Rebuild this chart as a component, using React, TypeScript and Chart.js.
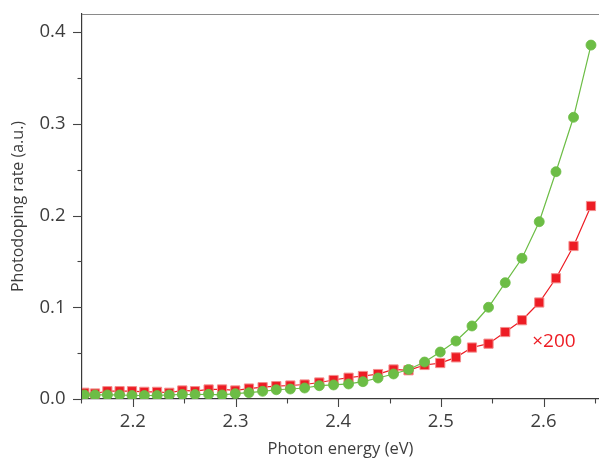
import React, { useEffect, useRef } from "react";
import { Chart, registerables } from "chart.js";
Chart.register(...registerables);

// Photon energy (eV) of each measured point
const energy = [
  2.1528, 2.1632, 2.1752, 2.1871, 2.1992, 2.2112, 2.2236, 2.2355, 2.2482, 2.2606,
  2.2738, 2.2869, 2.2998, 2.3131, 2.3264, 2.3397, 2.3534, 2.3673, 2.3816, 2.3955,
  2.4101, 2.4241, 2.4388, 2.4539, 2.4685, 2.4841, 2.4994, 2.5147, 2.5303, 2.5464,
  2.5627, 2.579, 2.5958, 2.6121, 2.6292, 2.6462,
];
// green circles
const greenRate = [
  0.0044, 0.0044, 0.0044, 0.0044, 0.0038, 0.0038, 0.0038, 0.0044, 0.0049, 0.0049,
  0.0051, 0.0044, 0.0058, 0.0069, 0.0084, 0.0101, 0.0109, 0.012, 0.0145, 0.0153,
  0.0164, 0.0189, 0.0229, 0.0273, 0.0322, 0.0403, 0.0512, 0.0632, 0.0796, 0.1,
  0.1268, 0.1534, 0.1933, 0.2478, 0.3071, 0.3858,
];
// red squares (×200)
const redRate = [
  0.0068, 0.006, 0.0085, 0.0085, 0.0085, 0.0078, 0.0078, 0.0068, 0.0093, 0.0085,
  0.0104, 0.0104, 0.0093, 0.0114, 0.0129, 0.014, 0.0147, 0.0158, 0.018, 0.0207,
  0.0232, 0.0251, 0.0272, 0.0322, 0.0313, 0.0371, 0.0392, 0.0454, 0.0561, 0.0603,
  0.073, 0.0859, 0.1052, 0.1316, 0.1668, 0.2104,
];
const xTickLabels = ["2.2", "2.3", "2.4", "2.5", "2.6"];
const yTickLabels = ["0.0", "0.1", "0.2", "0.3", "0.4"];
const xMinorTicks = ["2.15", "2.25", "2.35", "2.45", "2.55", "2.65"];
const yMinorTicks = ["0.05", "0.15", "0.25", "0.35"];
const scaleNote = "×200";
const scaleNoteAt = { x: 2.589, y: 0.0625 };

const GREEN = "#6cbd45";
const RED = "#ed1c24";
const TEXT = "#3d3d3d";
const FONT = "'Open Sans', 'Noto Sans', sans-serif";

const axisDecor = {
  id: "axisDecor",
  afterDraw(chart: any) {
    const { ctx, chartArea } = chart;
    const x = chart.scales.x;
    const y = chart.scales.y;
    ctx.save();
    // top frame line
    ctx.strokeStyle = "#8a8a8a";
    ctx.lineWidth = 1.2;
    ctx.beginPath();
    ctx.moveTo(chartArea.left, chartArea.top + 0.5);
    ctx.lineTo(chartArea.right, chartArea.top + 0.5);
    ctx.stroke();
    ctx.strokeStyle = "#444";
    ctx.lineWidth = 1.1;
    const drawX = (v: number, len: number) => {
      const px = Math.round(x.getPixelForValue(v)) + 0.5;
      ctx.beginPath();
      ctx.moveTo(px, chartArea.bottom);
      ctx.lineTo(px, chartArea.bottom + len);
      ctx.stroke();
    };
    const drawY = (v: number, len: number) => {
      const py = Math.round(y.getPixelForValue(v)) + 0.5;
      ctx.beginPath();
      ctx.moveTo(chartArea.left, py);
      ctx.lineTo(chartArea.left - len, py);
      ctx.stroke();
    };
    xTickLabels.forEach((l) => drawX(parseFloat(l), 8));
    xMinorTicks.forEach((l) => drawX(parseFloat(l), 4.5));
    yTickLabels.forEach((l) => drawY(parseFloat(l), 9));
    yMinorTicks.forEach((l) => drawY(parseFloat(l), 4.5));
    // ×200 note
    ctx.fillStyle = RED;
    ctx.font = `19px ${FONT}`;
    ctx.textAlign = "left";
    ctx.textBaseline = "middle";
    ctx.fillText(scaleNote, x.getPixelForValue(scaleNoteAt.x), y.getPixelForValue(scaleNoteAt.y));
    ctx.restore();
  },
};

export default function App() {
  const ref = useRef<HTMLCanvasElement | null>(null);
  useEffect(() => {
    if (!ref.current) return;
    const chart = new Chart(ref.current, {
      type: "scatter",
      data: {
        datasets: [
          {
            label: "green",
            data: energy.map((e, i) => ({ x: e, y: greenRate[i] })),
            showLine: true,
            borderColor: GREEN,
            borderWidth: 1.2,
            backgroundColor: GREEN,
            pointStyle: "circle",
            pointRadius: 5,
            pointBorderWidth: 0.8,
            pointBorderColor: GREEN,
            pointBackgroundColor: GREEN,
            tension: 0,
          },
          {
            label: "red ×200",
            data: energy.map((e, i) => ({ x: e, y: redRate[i] })),
            showLine: true,
            borderColor: RED,
            borderWidth: 1.2,
            backgroundColor: RED,
            pointStyle: "rect",
            pointRadius: 6.5,
            pointBorderWidth: 1,
            pointBorderColor: "#f48c8c",
            pointBackgroundColor: RED,
            tension: 0,
          },
        ],
      },
      options: {
        responsive: false,
        animation: false,
        devicePixelRatio: 1,
        layout: { autoPadding: false, padding: { top: 14, left: 0, right: 0, bottom: 0 } },
        plugins: { legend: { display: false }, tooltip: { enabled: false } },
        scales: {
          x: {
            type: "linear",
            min: 2.1505,
            max: 2.654,
            grid: { display: false, drawTicks: false },
            border: { display: true, color: "#3a3a3a", width: 1.2 },
            afterBuildTicks: (s: any) => {
              s.ticks = xTickLabels.map((l) => ({ value: parseFloat(l) }));
            },
            afterFit: (s: any) => {
              s.height = 60;
              s.paddingLeft = 0;
              s.paddingRight = 0;
            },
            ticks: {
              padding: 12,
              color: TEXT,
              font: { family: FONT, size: 18.5 },
              callback: (v: any) => xTickLabels.find((l) => Math.abs(parseFloat(l) - v) < 1e-6) ?? "",
            },
            title: {
              display: true,
              text: "Photon energy (eV)",
              color: TEXT,
              font: { family: FONT, size: 16.5 },
              padding: { top: 0, bottom: 0 },
            },
          },
          y: {
            type: "linear",
            min: 0,
            max: 0.4197,
            grid: { display: false, drawTicks: false },
            border: { display: true, color: "#3a3a3a", width: 1.2 },
            afterBuildTicks: (s: any) => {
              s.ticks = yTickLabels.map((l) => ({ value: parseFloat(l) }));
            },
            afterFit: (s: any) => {
              s.width = 82;
              s.paddingTop = 0;
              s.paddingBottom = 0;
            },
            ticks: {
              padding: 16.5,
              color: TEXT,
              font: { family: FONT, size: 18.5 },
              callback: (v: any) => yTickLabels.find((l) => Math.abs(parseFloat(l) - v) < 1e-6) ?? "",
            },
            title: {
              display: true,
              text: "Photodoping rate (a.u.)",
              color: TEXT,
              font: { family: FONT, size: 16 },
              padding: { top: 8.5, bottom: 0 },
            },
          },
        },
      },
      plugins: [axisDecor],
    } as any);
    return () => chart.destroy();
  }, []);
  return (
    <div style={{ position: "fixed", left: 0, top: 0, width: 599, height: 459, background: "#fff" }}>
      <canvas ref={ref} width={599} height={459} style={{ display: "block" }} />
    </div>
  );
}
